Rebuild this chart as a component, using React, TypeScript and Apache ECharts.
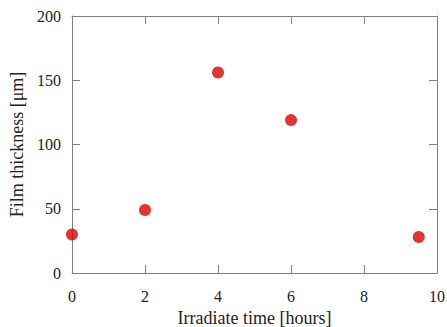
import React, { useEffect, useRef } from "react";
import * as echarts from "echarts";

const times = [0, 2, 4, 6, 9.5];
const thickness = [30, 49, 156, 119, 28];
const xTicks = [0, 2, 4, 6, 8, 10];
const yTicks = [0, 50, 100, 150, 200];

export default function App() {
  const ref = useRef<HTMLDivElement>(null);
  useEffect(() => {
    const chart = echarts.init(ref.current!, null, { renderer: "svg" });
    const axisColor = "#808080";
    const font = "Liberation Serif";
    const tick = () => ({ show: true, inside: true, length: 8, lineStyle: { color: axisColor } });
    const line = () => ({ show: true, onZero: false, lineStyle: { color: axisColor } });
    chart.setOption({
      animation: false,
      backgroundColor: "#ffffff",
      textStyle: { fontFamily: font },
      grid: { left: 72, right: 10, top: 16, bottom: 54, containLabel: false, outerBoundsMode: "none" },
      xAxis: [
        {
          type: "value",
          position: "bottom",
          min: xTicks[0],
          max: xTicks[xTicks.length - 1],
          interval: 2,
          name: "Irradiate time [hours]",
          nameLocation: "middle",
          nameGap: 34,
          nameTextStyle: { fontFamily: font, fontSize: 18, color: "#222" },
          axisLine: line(),
          axisTick: tick(),
          axisLabel: { fontFamily: font, fontSize: 16, color: "#222", margin: 15 },
          splitLine: { show: false },
        },
        {
          type: "value",
          position: "top",
          min: xTicks[0],
          max: xTicks[xTicks.length - 1],
          interval: 2,
          axisLine: line(),
          axisTick: tick(),
          axisLabel: { show: false },
          splitLine: { show: false },
        },
      ],
      yAxis: [
        {
          type: "value",
          position: "left",
          min: yTicks[0],
          max: yTicks[yTicks.length - 1],
          interval: 50,
          name: "Film thickness [\u03bcm]",
          nameLocation: "middle",
          nameGap: 46,
          nameTextStyle: { fontFamily: font, fontSize: 18, color: "#222" },
          axisLine: line(),
          axisTick: tick(),
          axisLabel: { fontFamily: font, fontSize: 16, color: "#222", margin: 11 },
          splitLine: { show: false },
        },
        {
          type: "value",
          position: "right",
          min: yTicks[0],
          max: yTicks[yTicks.length - 1],
          interval: 50,
          axisLine: line(),
          axisTick: tick(),
          axisLabel: { show: false },
          splitLine: { show: false },
        },
      ],
      series: [
        {
          type: "scatter",
          xAxisIndex: 0,
          yAxisIndex: 0,
          data: times.map((t, i) => [t, thickness[i]]),
          symbol: "circle",
          symbolSize: 12,
          itemStyle: { color: "#d80000" },
        },
      ],
    });
    return () => chart.dispose();
  }, []);
  return <div ref={ref} style={{ width: 447, height: 327, position: "absolute", left: 0, top: 0 }} />;
}
